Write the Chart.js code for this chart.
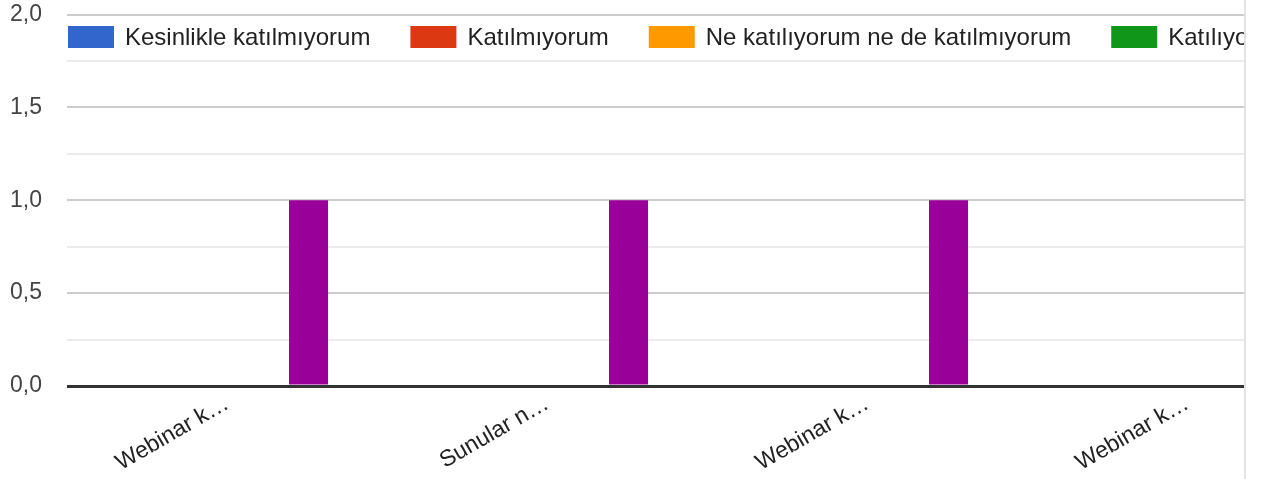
<!DOCTYPE html>
<html>
<head>
<meta charset="utf-8">
<script src="https://cdn.jsdelivr.net/npm/chart.js@4.4.1/dist/chart.umd.min.js"></script>
<style>
  html, body { margin: 0; padding: 0; background: #fff; overflow: hidden; }
  #wrap { width: 1244px; height: 479px; overflow: hidden; border-right: 2px solid #e3e3e6; }
  canvas { display: block; }
</style>
</head>
<body>
<div id="wrap"><canvas id="myChart" width="1360" height="479"></canvas></div>
<script>
const categories = ["Webinar k…", "Sunular n…", "Webinar k…", "Webinar k…"];

const seriesNames = [
  "Kesinlikle katılmıyorum",
  "Katılmıyorum",
  "Ne katılıyorum ne de katılmıyorum",
  "Katılıyorum",
  "Kesinlikle katılıyorum"
];
const seriesColors = ["#3366cc", "#dc3912", "#ff9900", "#109618", "#990099"];

const kesinlikleKatilmiyorum = [0, 0, 0, 0];
const katilmiyorum = [0, 0, 0, 0];
const neKatiliyorumNeDe = [0, 0, 0, 0];
const katiliyorum = [0, 0, 0, 0];
const kesinlikleKatiliyorum = [1, 1, 1, 1];

const yTickValues = [0, 0.5, 1, 1.5, 2];
const yTickLabels = ["0,0", "0,5", "1,0", "1,5", "2,0"];

const seriesValues = [kesinlikleKatilmiyorum, katilmiyorum, neKatiliyorumNeDe, katiliyorum, kesinlikleKatiliyorum];

const fontFamily = '"Liberation Sans", Arial, sans-serif';

// legend drawn inside the plot, under the top gridline
const legendInside = {
  id: 'legendInside',
  afterDraw(chart) {
    const c = chart.ctx;
    c.save();
    c.font = '24px ' + fontFamily;
    c.textBaseline = 'middle';
    c.textAlign = 'left';
    let x = chart.chartArea.left + 1;
    const y = 26;
    chart.data.datasets.forEach(ds => {
      c.fillStyle = ds.backgroundColor;
      c.fillRect(x, y, 46, 22);
      c.fillStyle = '#222';
      c.fillText(ds.label, x + 57, y + 12);
      x += 57 + c.measureText(ds.label).width + 40;
    });
    c.restore();
  }
};

const ctx = document.getElementById("myChart").getContext("2d");

let chart = new Chart(ctx, {
  type: 'bar',
  data: {
    labels: categories,
    datasets: seriesNames.map((name, i) => ({
      label: name,
      data: seriesValues[i],
      backgroundColor: seriesColors[i],
      borderWidth: 0,
      categoryPercentage: 0.637,
      barPercentage: 0.957
    }))
  },
  options: {
    responsive: false,
    animation: false,
    devicePixelRatio: 1,
    layout: { padding: { left: 10, top: 12, right: 13, bottom: 0 } },
    plugins: {
      legend: { display: false },
      tooltip: { enabled: false }
    },
    scales: {
      x: {
        grid: { display: false },
        border: { display: false },
        ticks: {
          autoSkip: false,
          minRotation: 30,
          maxRotation: 30,
          padding: -4,
          color: '#222',
          font: { family: fontFamily, size: 23 }
        },
        afterFit: s => { s.height = 93; }
      },
      y: {
        min: 0,
        max: 2,
        border: { display: false },
        grid: {
          drawTicks: false,
          color: c => c.tick.value === 0 ? '#333333' : (yTickValues.includes(c.tick.value) ? '#cccccc' : '#ebebeb'),
          lineWidth: c => c.tick.value === 0 ? 3 : 2
        },
        ticks: {
          stepSize: 0.25,
          crossAlign: 'far',
          color: '#444',
          font: { family: fontFamily, size: 23, lineHeight: 1 },
          callback: v => {
            const i = yTickValues.indexOf(v);
            return i >= 0 ? yTickLabels[i] : '';
          }
        },
        afterFit: s => { s.width = 57; }
      }
    }
  },
  plugins: [legendInside]
});
</script>
</body>
</html>
